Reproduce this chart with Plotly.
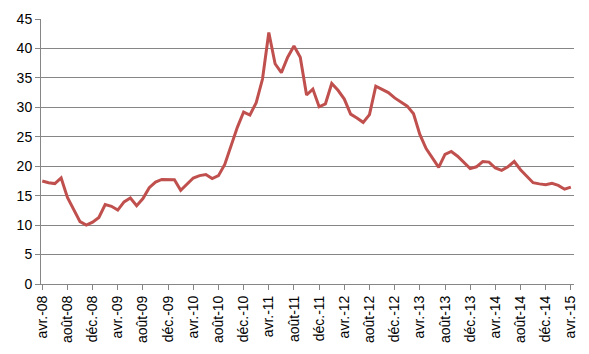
import plotly.graph_objects as go

values = [17.5, 17.2, 17.05, 18.0, 14.7, 12.55, 10.6, 10.0, 10.5, 11.3,
          13.5, 13.2, 12.55, 13.95, 14.6, 13.3, 14.5, 16.35, 17.3, 17.75,
          17.75, 17.7, 15.9, 17.0, 18.0, 18.4, 18.6, 17.9, 18.4, 20.3,
          23.4, 26.6, 29.2, 28.7, 30.8, 34.8, 42.7, 37.4, 35.9, 38.5,
          40.4, 38.5, 32.1, 33.1, 30.1, 30.6, 34.05, 32.9, 31.4, 28.85,
          28.2, 27.45, 28.75, 33.6, 33.05, 32.5, 31.6, 30.9, 30.2, 28.9,
          25.4, 23.0, 21.5, 19.8, 22.0, 22.5, 21.7, 20.6, 19.6, 19.9,
          20.8, 20.7, 19.7, 19.3, 19.9, 20.8, 19.4, 18.3, 17.2, 17.0,
          16.85, 17.1, 16.75, 16.1, 16.45]

tick_labels = ["avr.-08", "août-08", "déc.-08", "avr.-09", "août-09", "déc.-09",
               "avr.-10", "août-10", "déc.-10", "avr.-11", "août-11", "déc.-11",
               "avr.-12", "août-12", "déc.-12", "avr.-13", "août-13", "déc.-13",
               "avr.-14", "août-14", "déc.-14", "avr.-15"]

x = list(range(len(values)))
tick_vals = [i * 4 for i in range(len(tick_labels))]

fig = go.Figure()
fig.add_trace(go.Scatter(x=x, y=values, mode="lines",
                         line=dict(color="#C0504D", width=3),
                         hoverinfo="skip"))

grid = "#868686"
fig.update_layout(
    width=589, height=354,
    margin=dict(l=41, r=11, t=17, b=70),
    paper_bgcolor="white", plot_bgcolor="white",
    showlegend=False,
    font=dict(family="Liberation Sans, Arial, sans-serif", size=13, color="black"),
)
fig.update_xaxes(
    range=[-0.2, 84.5],
    tickmode="array", tickvals=tick_vals, ticktext=tick_labels,
    tickangle=-90, tickfont=dict(size=14),
    showgrid=False, zeroline=False,
    showline=True, linecolor=grid, linewidth=1,
    ticks="outside", ticklen=5, tickcolor=grid,
)
fig.update_yaxes(
    range=[0, 45], tickmode="linear", tick0=0, dtick=5,
    showgrid=True, gridcolor=grid, gridwidth=1,
    zeroline=False,
    showline=True, linecolor=grid, linewidth=1,
    ticks="outside", ticklen=5, tickcolor=grid,
    tickfont=dict(size=14),
)

fig.write_html("out.html")
